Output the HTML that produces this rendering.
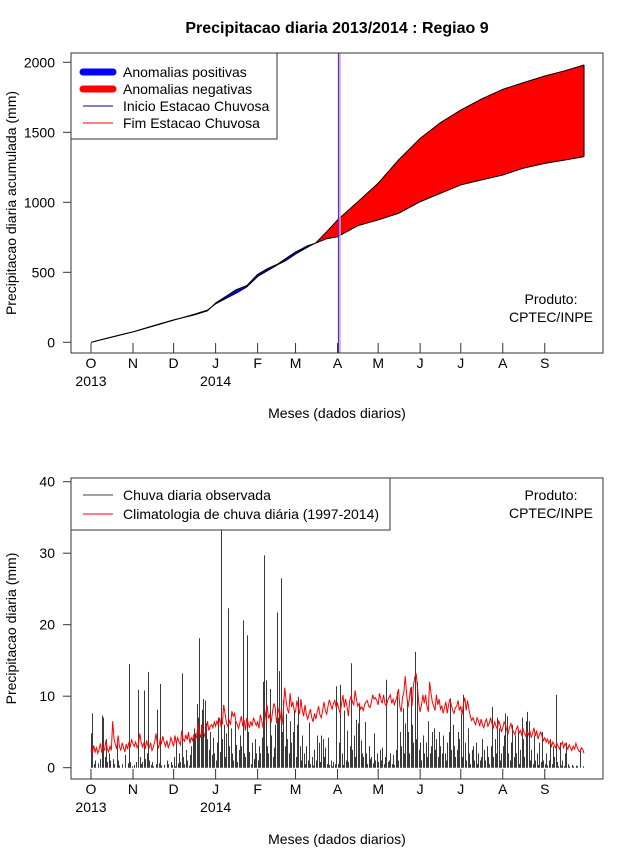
<!DOCTYPE html>
<html><head><meta charset="utf-8"><style>
html,body{margin:0;padding:0;background:#fff;}
svg{display:block;font-family:"Liberation Sans",Arial,sans-serif;}
</style></head><body>
<svg id="chart" width="640" height="850" viewBox="0 0 640 850">
<rect width="640" height="850" fill="#fff"/>
<text x="337" y="33" text-anchor="middle" font-size="16" font-weight="bold">Precipitacao diaria 2013/2014 : Regiao 9</text>
<g id="top"></g>
<g id="bot"></g>
</svg>
<script>
// ---- Top panel data (cumulative) ----
const topDays = [0,15,31,46,61,76,86,92,100,107,115,123,130,138,144,151,160,166,174,182,197,212,227,243,258,273,288,304,319,335,350,364];
const climCum = [0,36,74,115,158,200,230,275,315,350,395,470,510,555,585,630,680,710,790,874,1004,1136,1302,1457,1569,1659,1736,1807,1854,1902,1940,1981];
const obsCum  = [0,37,75,118,160,195,225,281,330,375,405,485,525,560,600,645,690,709,740,754,833,874,921,1004,1064,1124,1159,1195,1243,1278,1302,1326];
const topTicks = [0,500,1000,1500,2000];
const monthLabels = ["O","N","D","J","F","M","A","M","J","J","A","S"];
const monthStartDays = [0,31,61,92,123,151,182,212,243,273,304,335];
const rainStartDay = 182;
const rainEndDay = 182;
// ---- Bottom panel data (daily) ----
const obsDaily = [
4.8,7.6,0.5,1,0,0.6,0,1.2,7.3,7.0,1.5,4.0,0.8,2.0,1.0,0,1.2,0.5,0,3.4,1.0,0.3,0,0.5,0,1.8,0,0.6,14.5,0.8,0.2,
0,0.4,0.8,0,10.9,1.5,0.5,0.8,10.8,1.2,2.0,13.4,1.0,0.4,0.8,0.2,0,0.5,8.1,0.6,11.7,0.3,0,0.4,0,1.0,0.5,0,0.8,0.4,
1.5,0.2,3.5,0.6,2.0,0.8,13.2,1.5,0.5,2.5,1.0,0.3,1.8,3.0,4.2,5.5,4.8,8.9,7.0,18.1,6.0,8.1,9.6,9.4,6.2,4.0,2.5,5.0,1.8,4.2,2.0,
1.0,3.5,7.0,2.2,33.2,4.0,6.0,1.5,4.8,22.3,3.0,5.5,2.0,1.0,6.5,3.2,0.8,2.5,4.5,3.0,20.6,2.0,1.5,18.5,5.0,2.2,0.5,3.5,1.2,4.0,2.0,
1.0,3.0,2.0,4.2,12.0,29.7,12.2,3.0,2.0,11.0,4.5,1.5,2.8,6.0,21.7,7.0,13.5,26.5,5.0,9.5,3.0,7.5,4.0,2.0,6.5,3.5,5.0,8.0,
1.5,6.0,9.9,3.0,1.0,4.5,2.0,0.5,3.0,1.0,6.3,0.5,1.5,0.3,2.5,1.0,4.5,3.5,0.8,4.5,4.0,1.5,2.8,0.5,4.2,0.4,1.0,0.2,0.8,0.5,11.4,
0.5,3.5,11.6,2.0,0.4,8.0,1.0,5.2,0.8,3.0,14.6,2.5,4.5,1.5,6.7,6.2,8.8,3.8,2.0,1.5,6.4,2.0,0.5,3.0,1.2,1.5,0.6,4.8,1.0,2.0,
0.8,2.5,1.0,2.8,0.5,1.5,12.3,0.8,1.0,2.0,0.5,1.8,0.4,2.5,10.6,1.0,5.0,3.0,8.3,2.0,6.2,9.5,5.0,2.0,11.3,6.0,3.5,16.2,4.0,12.0,2.5,
3.5,1.0,4.5,2.0,3.5,1.5,6.5,2.0,3.0,5.0,5.5,2.5,4.0,1.5,5.0,3.0,2.0,4.5,2.0,1.0,3.5,5.0,9.7,2.5,6.0,3.0,1.5,2.5,5.0,4.0,
7.5,1.5,10.2,3.5,1.0,5.5,2.0,0.5,2.5,3.0,1.0,3.5,0.5,2.0,1.0,1.5,4.0,2.5,1.0,3.0,1.5,0.5,3.0,8.5,1.5,4.0,2.0,7.0,5.5,1.0,2.0,
3.0,4.5,7.6,7.2,2.0,1.0,3.5,6.0,1.5,4.5,2.0,5.0,0.5,2.5,7.0,4.0,1.5,6.5,7.8,6.5,1.0,2.5,0.5,4.5,1.0,2.0,0.4,3.5,0.8,5.0,1.0,
0.5,2.0,0.3,1.0,4.0,0.5,3.0,1.5,10.2,0.8,0.2,3.5,0.3,1.0,0.2,2.0,3.5,0.5,0.2,0,0.4,0.2,0,0.3,0.2,0,2.5,0,0.2,0];
const climDaily = [
2.5,2.0,3.1,2.2,2.8,2.0,2.6,3.4,2.1,2.9,2.4,3.8,2.6,2.2,3.0,2.4,6.5,4.0,3.2,2.6,4.5,3.0,2.4,3.5,2.8,2.2,3.3,2.6,3.6,3.0,3.9,
3.4,3.0,3.6,2.8,3.2,4.8,3.6,2.9,3.4,2.6,3.8,3.1,2.8,3.5,2.4,2.9,3.6,4.8,3.2,2.8,3.9,3.4,4.4,3.6,3.0,3.8,2.8,3.3,4.2,3.6,
3.0,4.5,3.4,4.2,3.6,3.2,5.2,4.0,3.7,4.6,3.9,5.0,3.4,4.2,3.8,4.7,3.9,4.4,6.3,4.8,4.2,5.8,5.0,4.4,5.3,6.5,5.2,5.8,6.0,5.6,6.4,
5.8,6.6,5.9,7.0,5.8,6.2,8.8,7.5,6.2,5.8,6.6,6.0,7.9,7.2,7.6,6.5,6.0,5.5,6.4,7.2,5.8,6.7,5.2,7.0,6.3,5.6,6.5,5.8,7.0,6.4,5.9,
6.4,5.5,7.4,6.6,5.6,6.3,7.6,8.8,6.9,7.4,6.3,7.8,9.0,8.4,6.2,7.6,8.5,7.0,6.0,7.8,11.2,9.5,8.2,7.6,10.4,8.5,9.2,8.0,
7.8,9.4,8.4,7.5,9.6,8.0,7.2,8.8,7.4,6.8,7.5,8.2,7.0,6.4,7.6,6.8,7.8,8.6,7.4,7.0,8.0,9.2,8.0,7.5,8.6,9.5,8.8,8.2,9.0,9.4,8.4,
9.0,8.2,7.6,9.0,10.2,8.4,9.6,8.6,7.2,9.4,10.0,9.2,8.8,10.8,9.5,8.6,9.0,8.2,8.5,8.0,8.8,9.2,9.4,8.6,8.4,9.2,10.2,9.6,9.8,9.4,
8.8,10.4,9.6,9.0,10.2,9.0,8.6,9.4,9.8,10.2,9.0,9.6,8.8,9.4,10.0,11.0,8.6,7.8,9.8,10.6,12.8,10.4,8.4,9.6,11.2,8.6,11.4,12.6,13.2,11.4,9.0,
7.8,8.8,10.2,9.0,10.2,8.6,7.8,12.0,10.4,9.2,8.6,8.0,10.2,8.8,9.6,8.2,8.6,7.6,8.4,9.2,7.6,8.8,9.6,8.8,8.0,7.6,8.4,8.6,9.4,8.0,
8.6,7.4,9.0,9.8,8.0,9.4,8.2,7.2,6.6,7.0,6.4,6.0,7.0,6.6,5.8,6.8,6.0,5.6,6.4,6.8,5.8,6.2,7.0,6.2,5.6,6.4,5.8,5.4,6.6,6.0,5.0,
5.6,6.4,6.0,5.2,4.8,5.6,6.2,5.4,5.0,4.6,5.4,5.8,4.8,5.2,4.6,5.4,4.8,4.4,5.0,4.6,5.2,4.2,4.8,5.6,4.4,5.2,4.0,4.6,5.0,4.4,3.8,
4.2,3.6,4.0,3.4,3.8,3.0,3.6,3.2,2.8,3.4,3.0,2.6,3.2,3.6,2.8,3.4,3.0,2.6,3.2,2.8,2.4,3.0,2.6,3.4,2.8,2.4,2.2,2.8,2.6,2.0];
const botTicks = [0,10,20,30,40];

const NS = "http://www.w3.org/2000/svg";
function mk(parent, tag, attrs, txt){
  const e = document.createElementNS(NS, tag);
  for (const k in attrs) e.setAttribute(k, attrs[k]);
  if (txt !== undefined) e.textContent = txt;
  parent.appendChild(e);
  return e;
}
const xDay = d => 91 + d * 1.3545;
const yTop = v => 342.3 - v * 0.14;
const yBot = v => 767.7 - v * 7.15;

function axes(g, top, bottom, ticks, yfn, ylabel, prefix){
  let r = mk(g, "rect", {x:71, y:top, width:532, height:bottom-top, fill:"none", stroke:"#333", "stroke-width":1});
  
  
  ticks.forEach(t => {
    const y = yfn(t);
    let l = mk(g, "line", {x1:63, x2:71, y1:y, y2:y, stroke:"#333"});
    
    
    let tx = mk(g, "text", {x:55, y:y+5, "text-anchor":"end", "font-size":14}, String(t));
    
    
  });
  const cy = (top + bottom) / 2;
  let yl = mk(g, "text", {x:0, y:0, transform:`translate(16,${cy}) rotate(-90)`, "text-anchor":"middle", "font-size":14}, ylabel);
  
  
  monthStartDays.forEach((d, i) => {
    const x = xDay(d);
    let l = mk(g, "line", {x1:x, x2:x, y1:bottom, y2:bottom-10, stroke:"#333"});
    
    
    let t = mk(g, "text", {x:x, y:bottom+15, "text-anchor":"middle", "font-size":14}, monthLabels[i]);
    
    
  });
  [["2013",0],["2014",92]].forEach(([s,d]) => {
    let t = mk(g, "text", {x:xDay(d), y:bottom+33, "text-anchor":"middle", "font-size":14}, s);
    
    
  });
  let xt = mk(g, "text", {x:337, y:bottom+65, "text-anchor":"middle", "font-size":14}, "Meses (dados diarios)");
  
  
}

// ---------- TOP ----------
const gt = document.getElementById("top");
for (let i = 0; i < topDays.length - 1; i++) {
  const x0 = xDay(topDays[i]), x1 = xDay(topDays[i+1]);
  const diff = (obsCum[i] - climCum[i]) + (obsCum[i+1] - climCum[i+1]);
  const p = mk(gt, "polygon", {points:`${x0},${yTop(climCum[i])} ${x1},${yTop(climCum[i+1])} ${x1},${yTop(obsCum[i+1])} ${x0},${yTop(obsCum[i])}`, fill: diff >= 0 ? "#0000ff" : "#ff0000", stroke: diff >= 0 ? "#0000ff" : "#ff0000", "stroke-width":0.5});
  
  
}
const climPts = topDays.map((d,i)=>`${xDay(d)},${yTop(climCum[i])}`).join(" ");
const obsPts = topDays.map((d,i)=>`${xDay(d)},${yTop(obsCum[i])}`).join(" ");
let cl = mk(gt, "polyline", {points:climPts, fill:"none", stroke:"#000", "stroke-width":1});


let ol = mk(gt, "polyline", {points:obsPts, fill:"none", stroke:"#000", "stroke-width":1});


const lastI = topDays.length - 1;
let el = mk(gt, "line", {x1:xDay(topDays[lastI]), x2:xDay(topDays[lastI]), y1:yTop(climCum[lastI]), y2:yTop(obsCum[lastI]), stroke:"#000"});


let ve = mk(gt, "line", {x1:xDay(rainEndDay)+2.5, x2:xDay(rainEndDay)+2.5, y1:53, y2:353, stroke:"#e8a0e0", "stroke-width":1.5});


let vs = mk(gt, "line", {x1:xDay(rainStartDay)+1, x2:xDay(rainStartDay)+1, y1:53, y2:353, stroke:"#4a32c0", "stroke-width":1.2});


axes(gt, 53, 353, topTicks, yTop, "Precipitacao diaria acumulada (mm)", "top");
// legend
const lg = mk(gt, "g", {});


let lb = mk(lg, "rect", {x:71, y:53, width:206, height:86, fill:"#fff", stroke:"#333"});


[["Anomalias positivas","#0000ff",7],["Anomalias negativas","#ff0000",7],["Inicio Estacao Chuvosa","#00008b",1],["Fim Estacao Chuvosa","#ff0000",1]].forEach(([t,c,w],i)=>{
  const y = 72 + i*17;
  let l = mk(lg, "line", {x1:83, x2:113, y1:y, y2:y, stroke:c, "stroke-width":w, "stroke-linecap": w>1?"round":"butt"});
  
  
  let tx = mk(lg, "text", {x:123, y:y+5, "font-size":14}, t);
  
  
});
let pr = mk(gt, "text", {x:551, y:304, "text-anchor":"middle", "font-size":14}, "Produto:");


let pr2 = mk(gt, "text", {x:551, y:322, "text-anchor":"middle", "font-size":14}, "CPTEC/INPE");



// ---------- BOTTOM ----------
const gb = document.getElementById("bot");
obsDaily.forEach((v, d) => {
  const x = Math.round(xDay(d)) + 0.5;
  const b = mk(gb, "line", {x1:x, x2:x, y1:yBot(0), y2:yBot(v), stroke:"#3a3a3a", "stroke-width":1});
  
  
});
const cp = climDaily.map((v,d)=>`${xDay(d).toFixed(1)},${yBot(v).toFixed(1)}`).join(" ");
let cline = mk(gb, "polyline", {points:cp, fill:"none", stroke:"#ff0000", "stroke-width":1});


axes(gb, 478, 779, botTicks, yBot, "Precipitacao diaria (mm)", "bottom");
const lg2 = mk(gb, "g", {});


let lb2 = mk(lg2, "rect", {x:71, y:478, width:319, height:52, fill:"#fff", stroke:"#333"});


[["Chuva diaria observada","#444"],["Climatologia de chuva diária (1997-2014)","#ff0000"]].forEach(([t,c],i)=>{
  const y = 495 + i*19;
  let l = mk(lg2, "line", {x1:83, x2:113, y1:y, y2:y, stroke:c, "stroke-width":1});
  
  
  let tx = mk(lg2, "text", {x:123, y:y+5, "font-size":14}, t);
  
  
});
let pb = mk(gb, "text", {x:551, y:500, "text-anchor":"middle", "font-size":14}, "Produto:");


let pb2 = mk(gb, "text", {x:551, y:518, "text-anchor":"middle", "font-size":14}, "CPTEC/INPE");


</script>
</body></html>
